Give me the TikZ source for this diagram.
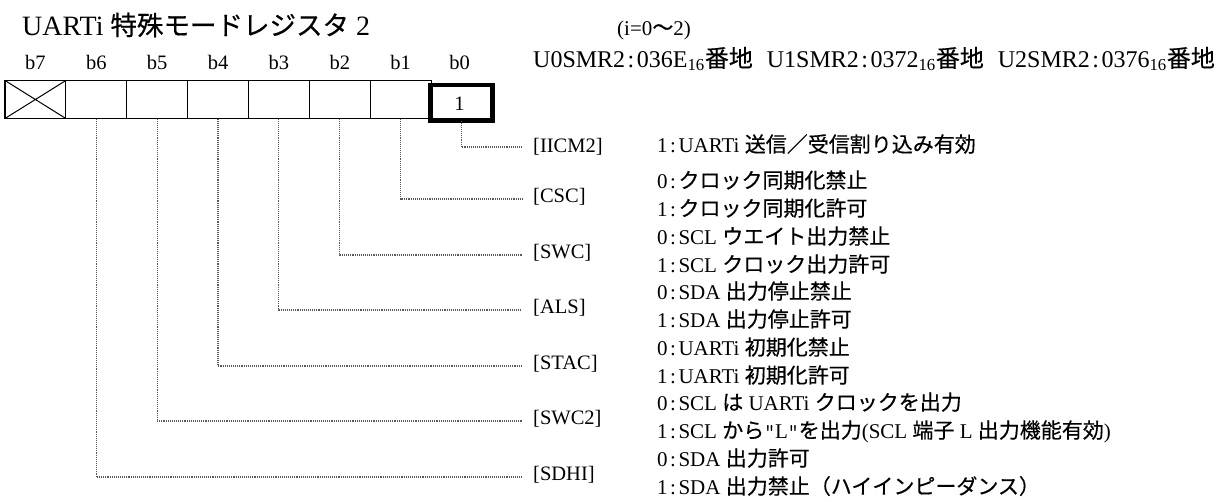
\documentclass[tikz,border=0pt]{standalone}
\usepackage{fontspec}
\setmainfont{Liberation Serif}
\newfontfamily\jfont{Noto Sans CJK JP}[FakeBold=0.4]
\newcommand\J[1]{{\jfont #1}}
\newcommand\cl{\kern2.5pt:\kern2.5pt}
\newcommand\sxt{\textsubscript{16}}
\newcommand\sq{{\ttfamily"}}
\begin{document}
\begin{tikzpicture}[x=1pt,y=-1pt,
  cell/.style={draw,line width=1.2pt,minimum width=60.875pt,minimum height=38pt,inner sep=0pt,outer sep=0pt},
  bitbox/.style={draw,line width=4.5pt,minimum width=62pt,minimum height=35.5pt,inner sep=0pt,outer sep=0pt},
  txt/.style={anchor=base west,inner sep=0pt,font=\fontsize{21}{24}\selectfont},
  lbl/.style={anchor=base west,inner sep=0pt,font=\fontsize{20.5}{24}\selectfont},
  bitlbl/.style={anchor=base,inner sep=0pt,font=\fontsize{20.5}{24}\selectfont},
  conn/.style={draw=black!65,line width=1.1pt,densely dotted}]
\useasboundingbox (0,0) rectangle (1223,501);

% title and header
\node[anchor=base west,inner sep=0pt,font=\fontsize{28}{32}\selectfont] (title) at (22,35) {UARTi \J{\fontsize{26.5}{32}\selectfont 特殊モードレジスタ} 2};
\node[anchor=base west,inner sep=0pt,font=\fontsize{21}{26}\selectfont] (iidx) at (617,35) {(i=0\J{〜}2)};
\node[anchor=base west,inner sep=0pt,font=\fontsize{24}{28}\selectfont] (addr) at (533,67) {U0SMR2\cl 036E\sxt\J{番地}\hspace{14pt}U1SMR2\cl 0372\sxt\J{番地}\hspace{14pt}U2SMR2\cl 0376\sxt\J{番地}};

% bit labels
\foreach \i/\xx in {7/35.4,6/96.3,5/157.2,4/218.0,3/278.9,2/339.8,1/400.7,0/459.5}
  \node[bitlbl] (b\i) at (\xx,69.5) {b\i};

% register cells
\foreach \i/\xx in {7/35.4,6/96.3,5/157.2,4/218.0,3/278.9,2/339.8,1/400.7}
  \node[cell] (c\i) at (\xx,99.5) {};
\node[bitbox] (c0) at (461.5,102.75) {};
\node[anchor=base,inner sep=0pt,font=\fontsize{20.5}{24}\selectfont] (one) at (459.5,110) {1};
\draw[line width=1pt] (c7.north west) -- (c7.south east) (c7.south west) -- (c7.north east);

% connector end points
\coordinate (e0) at (522,147);
\coordinate (e1) at (522,199);
\coordinate (e2) at (522,255);
\coordinate (e3) at (522,310);
\coordinate (e4) at (522,366);
\coordinate (e5) at (522,421);
\coordinate (e6) at (522,477);
\foreach \i in {0,...,6}
  \draw[conn] (c\i.south) |- (e\i);

% field labels
\node[lbl] (l0) at (533,152) {[IICM2]};
\node[lbl] (l1) at (533,202) {[CSC]};
\node[lbl] (l2) at (533,258) {[SWC]};
\node[lbl] (l3) at (533,313) {[ALS]};
\node[lbl] (l4) at (533,369) {[STAC]};
\node[lbl] (l5) at (533,424) {[SWC2]};
\node[lbl] (l6) at (533,480) {[SDHI]};

% descriptions
\node[txt] (d0) at (657,152) {1\cl UARTi \J{送信／受信割り込み有効}};
\node[txt] (d1a) at (657,188) {0\cl\J{クロック同期化禁止}};
\node[txt] (d1b) at (657,216) {1\cl\J{クロック同期化許可}};
\node[txt] (d2a) at (657,244) {0\cl SCL \J{ウエイト出力禁止}};
\node[txt] (d2b) at (657,272) {1\cl SCL \J{クロック出力許可}};
\node[txt] (d3a) at (657,299) {0\cl SDA \J{出力停止禁止}};
\node[txt] (d3b) at (657,327) {1\cl SDA \J{出力停止許可}};
\node[txt] (d4a) at (657,355) {0\cl UARTi \J{初期化禁止}};
\node[txt] (d4b) at (657,383) {1\cl UARTi \J{初期化許可}};
\node[txt] (d5a) at (657,410) {0\cl SCL \J{は} UARTi \J{クロックを出力}};
\node[txt] (d5b) at (657,438) {1\cl SCL \J{から}\sq L\sq\J{を出力}(SCL \J{端子} L \J{出力機能有効})};
\node[txt] (d6a) at (657,466) {0\cl SDA \J{出力許可}};
\node[txt] (d6b) at (657,494) {1\cl SDA \J{出力禁止（ハイインピーダンス）}};
\end{tikzpicture}
\end{document}
